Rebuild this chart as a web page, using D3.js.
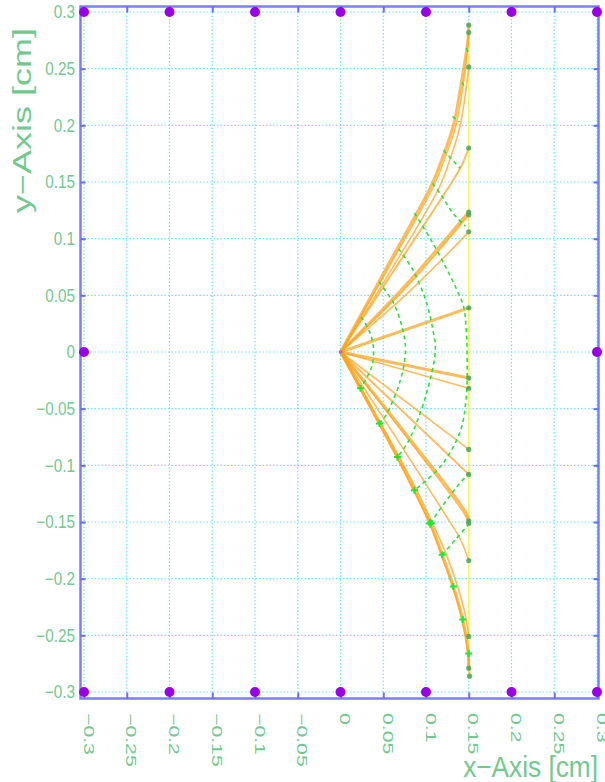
<!DOCTYPE html>
<html>
<head>
<meta charset="utf-8">
<script src="https://cdn.jsdelivr.net/npm/d3@7"></script>
<style>
  body { margin: 0; background: #fff; }
  text { font-family: "Liberation Sans", Arial, sans-serif; fill: #72c990; }
</style>
</head>
<body>
<script>
var w = 605,
    h = 782;

// tick values and labels
var TICKS = [-0.3, -0.25, -0.2, -0.15, -0.1, -0.05, 0, 0.05, 0.1, 0.15, 0.2, 0.25, 0.3];
var X_LABELS = ["\u22120.3", "\u22120.25", "\u22120.2", "\u22120.15", "\u22120.1", "\u22120.05", "0",
                "0.05", "0.1", "0.15", "0.2", "0.25", "0.3"];
var Y_LABELS = X_LABELS.slice();

// purple markers on the frame
var EDGE_X = [-0.3, -0.2, -0.1, 0, 0.1, 0.2, 0.3];
var EDGE_Y = [-0.3, 0.3];
var SIDE_Y = [0];

// the tracks leaving the origin, each a list of [x, y]
var tracks = [
  [[0,0],[0.054,0.0745],[0.1076,0.149],[0.119,0.171],[0.132,0.2],[0.144,0.25],[0.149,0.275],[0.15,0.2885]],
  [[0,0],[0.056,0.074],[0.110,0.148],[0.122,0.171],[0.135,0.2],[0.146,0.25],[0.15,0.282]],
  [[0,0],[0.059,0.072],[0.116,0.146],[0.128,0.17],[0.140,0.2],[0.15,0.2515]],
  [[0,0],[0.066,0.076],[0.132,0.152],[0.142,0.165],[0.15,0.180]],
  [[0,0],[0.075,0.058],[0.15,0.1235]],
  [[0,0],[0.077,0.057],[0.15,0.121]],
  [[0,0],[0.080,0.053],[0.15,0.106]],
  [[0,0],[0.15,0.039]],
  [[0,0],[0.15,-0.023]],
  [[0,0],[0.15,-0.032]],
  [[0,0],[0.15,-0.086]],
  [[0,0],[0.15,-0.108]],
  [[0,0],[0.074,-0.070],[0.146,-0.141],[0.15,-0.149]],
  [[0,0],[0.074,-0.072],[0.145,-0.143],[0.15,-0.151]],
  [[0,0],[0.062,-0.072],[0.123,-0.144],[0.140,-0.165],[0.15,-0.184]],
  [[0,0],[0.0465,-0.062],[0.088,-0.12],[0.107,-0.15],[0.124,-0.179],[0.137,-0.207],[0.146,-0.232],[0.15,-0.251]],
  [[0,0],[0.0234,-0.032],[0.0456,-0.063],[0.0667,-0.0927],[0.0865,-0.122],[0.105,-0.151],[0.119,-0.179],[0.132,-0.207],[0.143,-0.236],[0.149,-0.262],[0.15,-0.279]],
  [[0,0],[0.0224,-0.032],[0.0446,-0.063],[0.0657,-0.0927],[0.0855,-0.122],[0.104,-0.151],[0.118,-0.179],[0.131,-0.207],[0.142,-0.236],[0.149,-0.265],[0.151,-0.286]]
];
var trackWidth = [3, 1.6, 1.6, 2, 3, 1.6, 1.6, 3, 3, 1.6, 1.6, 2, 3, 1.6, 1.6, 1.6, 3, 1.8];

// dashed green fronts crossing the tracks
var fronts = [
  [[0.024,0.031],[0.034,0.018],[0.0386,0.003],[0.036,-0.014],[0.0234,-0.032]],
  [[0.045,0.062],[0.062,0.043],[0.072,0.022],[0.076,0.002],[0.070,-0.025],[0.053,-0.056],[0.0456,-0.063]],
  [[0.068,0.091],[0.085,0.072],[0.100,0.045],[0.108,0.02],[0.111,0.002],[0.100,-0.038],[0.080,-0.078],[0.0667,-0.0927]],
  [[0.0866,0.1226],[0.105,0.100],[0.123,0.075],[0.136,0.055],[0.144,0.04],[0.147,0.02],[0.148,0],[0.147,-0.04],[0.140,-0.07],[0.118,-0.10],[0.0865,-0.122]],
  [[0.1076,0.149],[0.119,0.137],[0.131,0.123],[0.146,0.111]],
  [[0.105,-0.151],[0.120,-0.135],[0.135,-0.120],[0.15,-0.107]],
  [[0.1205,0.178],[0.140,0.162]],
  [[0.119,-0.179],[0.135,-0.165],[0.15,-0.152]],
  [[0.131,0.208],[0.139,0.203]],
  [[0.142,0.238],[0.147,0.232]],
  [[0.147,0.268],[0.15,0.264]]
];

// "+" markers along the lowest track
var plusX = [0.0234, 0.0456, 0.0667, 0.0865, 0.105, 0.119, 0.132, 0.143, 0.150];
var plusY = [-0.032, -0.063, -0.0927, -0.122, -0.151, -0.179, -0.207, -0.236, -0.266];

// yellow boundary line
var wallX = 0.15;
var wallY = [0.29, -0.286];

var svg = d3.select("body").append("svg")
    .attr("width", w)
    .attr("height", h);

var x = d3.scaleLinear().domain([-0.3, 0.3]).range([84, 597]),
    y = d3.scaleLinear().domain([-0.3, 0.3]).range([692, 12]);

var frameL = x(-0.3) - 3.5, frameR = x(0.3) + 1.5,
    frameT = y(0.3) - 5.5, frameB = y(-0.3) + 6.5;

// grid
var grid = svg.append("g")
    .attr("stroke", "#6fe3ff")
    .attr("stroke-width", 1.2)
    .attr("stroke-dasharray", "1.5,2");
grid.selectAll(".gx").data(TICKS).enter().append("line")
    .attr("x1", function(d) { return x(d); })
    .attr("x2", function(d) { return x(d); })
    .attr("y1", y(0.3))
    .attr("y2", y(-0.3));
grid.selectAll(".gy").data(TICKS).enter().append("line")
    .attr("y1", function(d) { return y(d); })
    .attr("y2", function(d) { return y(d); })
    .attr("x1", x(-0.3))
    .attr("x2", x(0.3));

// yellow line
svg.append("line")
    .attr("x1", x(wallX)).attr("x2", x(wallX))
    .attr("y1", y(wallY[0])).attr("y2", y(wallY[1]))
    .attr("stroke", "#f4f46a")
    .attr("stroke-width", 1.6);

var line = d3.line()
    .x(function(d) { return x(d[0]); })
    .y(function(d) { return y(d[1]); })
    .curve(d3.curveCatmullRom.alpha(0.5));

// tracks
svg.append("g").selectAll("path")
    .data(tracks)
    .enter()
    .append("path")
    .attr("d", line)
    .attr("fill", "none")
    .attr("stroke", "#ffa21c")
    .attr("stroke-opacity", 0.72)
    .attr("stroke-width", function(d, i) { return trackWidth[i]; })
    .attr("stroke-linecap", "round");

// fronts
svg.append("g").selectAll("path")
    .data(fronts)
    .enter()
    .append("path")
    .attr("d", line)
    .attr("fill", "none")
    .attr("stroke", "#2fe03a")
    .attr("stroke-width", 1.6)
    .attr("stroke-dasharray", "4,3.5");

// end points
svg.append("g").selectAll("circle")
    .data(tracks)
    .enter()
    .append("circle")
    .attr("cx", function(d) { return x(d[d.length - 1][0]); })
    .attr("cy", function(d) { return y(d[d.length - 1][1]); })
    .attr("r", 2.6)
    .attr("fill", "#4aa55a")
    .attr("fill-opacity", 0.85);

// plus markers
var plus = svg.append("g")
    .attr("stroke", "#22e632")
    .attr("stroke-width", 2);
plus.selectAll("path")
    .data(plusX)
    .enter()
    .append("path")
    .attr("d", function(d, i) {
      var cx = x(d), cy = y(plusY[i]), s = (i == 4) ? 4.5 : 3.5;
      return "M" + (cx - s) + "," + cy + "H" + (cx + s) + "M" + cx + "," + (cy - s) + "V" + (cy + s);
    });
plus.append("circle")
    .attr("cx", x(plusX[4]))
    .attr("cy", y(plusY[4]))
    .attr("r", 2.8)
    .attr("fill", "#22e632")
    .attr("stroke", "none");

// frame
svg.append("rect")
    .attr("x", frameL).attr("y", frameT)
    .attr("width", frameR - frameL).attr("height", frameB - frameT)
    .attr("fill", "none")
    .attr("stroke", "#7d7dff")
    .attr("stroke-width", 2.5);

// ticks on the frame
function tickStyle(g) {
  g.select(".domain").remove();
  g.selectAll(".tick line").attr("stroke", "#6a6aff").attr("stroke-width", 2);
}
svg.append("g").attr("transform", "translate(" + frameL + ",0)")
    .call(d3.axisLeft(y).tickValues(TICKS).tickSize(-5).tickFormat("")).call(tickStyle);
svg.append("g").attr("transform", "translate(" + frameR + ",0)")
    .call(d3.axisRight(y).tickValues(TICKS).tickSize(-5).tickFormat("")).call(tickStyle);
svg.append("g").attr("transform", "translate(0," + frameT + ")")
    .call(d3.axisTop(x).tickValues(TICKS).tickSize(-6).tickFormat("")).call(tickStyle);
svg.append("g").attr("transform", "translate(0," + frameB + ")")
    .call(d3.axisBottom(x).tickValues(TICKS).tickSize(-6).tickFormat("")).call(tickStyle);

// purple markers
var dots = [];
EDGE_Y.forEach(function(yy) { EDGE_X.forEach(function(xx) { dots.push([xx, yy]); }); });
SIDE_Y.forEach(function(yy) { dots.push([-0.3, yy]); dots.push([0.3, yy]); });
svg.append("g").selectAll("circle")
    .data(dots)
    .enter()
    .append("circle")
    .attr("cx", function(d) { return x(d[0]); })
    .attr("cy", function(d) { return y(d[1]); })
    .attr("r", 5)
    .attr("fill", "#9a00e6");
svg.append("circle")
    .attr("cx", x(0)).attr("cy", y(0))
    .attr("r", 1.8)
    .attr("fill", "#b060e0");

// tick labels
svg.append("g").selectAll("text")
    .data(TICKS)
    .enter()
    .append("text")
    .attr("transform", function(d) { return "translate(75," + y(d) + ") scale(0.85,1)"; })
    .attr("dy", "0.35em")
    .attr("text-anchor", "end")
    .attr("font-size", 18)
    .text(function(d, i) { return Y_LABELS[i]; });

svg.append("g").selectAll("text")
    .data(TICKS)
    .enter()
    .append("text")
    .attr("transform", function(d) { return "translate(" + (x(d) - 0.5) + ",713) scale(0.8,1.18) rotate(90)"; })
    .attr("text-anchor", "start")
    .attr("font-size", 18)
    .text(function(d, i) { return X_LABELS[i]; });

// axis titles
svg.append("text")
    .attr("transform", "translate(598,777) scale(0.875,1)")
    .attr("text-anchor", "end")
    .attr("font-size", 30)
    .text("x\u2212Axis [cm]");

svg.append("text")
    .attr("transform", "translate(31,213) scale(0.85,1.2) rotate(-90)")
    .attr("text-anchor", "start")
    .attr("font-size", 30)
    .text("y\u2212Axis [cm]");
</script>
</body>
</html>
